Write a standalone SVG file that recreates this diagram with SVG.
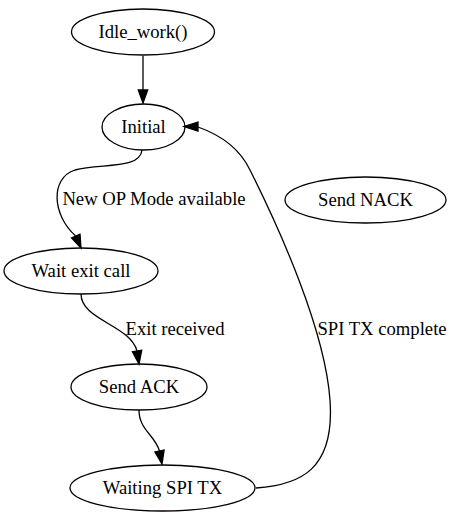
<svg xmlns="http://www.w3.org/2000/svg" width="453" height="517" viewBox="0 0 453 517">
<style>
.n ellipse{fill:none;stroke:#000;stroke-width:1.3}
text{font-family:"Liberation Serif","Times New Roman",serif;font-size:18.67px;fill:#000;text-anchor:middle}
.e path{fill:none;stroke:#000;stroke-width:1.3}
.e polygon{fill:#000;stroke:#000;stroke-width:1.3}
</style>
<rect width="453" height="517" fill="#fff"/>
<g id="connectors" class="e">
<g id="e_idle_initial">
<path d="M143,56 L143,90"/>
<polygon points="138.3,90 143,103 147.7,90"/>
</g>
<g id="e_initial_wait">
<path d="M142,150 C140,170 100,163 75,170 C50,178 52,215 75.7,236"/>
<polygon points="71.4,237.9 81,248 80,234.1"/>
<text x="154" y="205">New OP Mode available</text>
</g>
<g id="e_wait_ack">
<path d="M81,294 C81,320 130,325 137,351"/>
<polygon points="132.4,351.7 139,364 141.7,350.3"/>
<text x="175" y="335">Exit received</text>
</g>
<g id="e_ack_waiting">
<path d="M139,410 C139,430 155,435 159.5,451"/>
<polygon points="154.9,451.9 162,464 164.1,450.1"/>
</g>
<g id="e_waiting_initial">
<path d="M256,488 C300,485 335,470 330,400 C325,330 280,230 250,170 C238,145 215,133 198,127"/>
<polygon points="198,122 184,126.5 198,131"/>
<text x="382" y="335">SPI TX complete</text>
</g>
</g>
<g id="idle" class="n"><ellipse cx="143" cy="32" rx="71.5" ry="23"/><text x="143" y="37.5">Idle_work()</text></g>
<g id="initial" class="n"><ellipse cx="143.5" cy="127" rx="41.5" ry="23"/><text x="143.5" y="132.5">Initial</text></g>
<g id="send_nack" class="n"><ellipse cx="365.5" cy="200" rx="80.5" ry="23"/><text x="365.5" y="205.5">Send NACK</text></g>
<g id="wait_exit" class="n"><ellipse cx="81" cy="271" rx="77" ry="23"/><text x="81" y="276.5">Wait exit call</text></g>
<g id="send_ack" class="n"><ellipse cx="139" cy="387" rx="68" ry="23"/><text x="139" y="392.5">Send ACK</text></g>
<g id="waiting_spi" class="n"><ellipse cx="162.5" cy="488" rx="92.5" ry="23"/><text x="162.5" y="493.5">Waiting SPI TX</text></g>
</svg>
